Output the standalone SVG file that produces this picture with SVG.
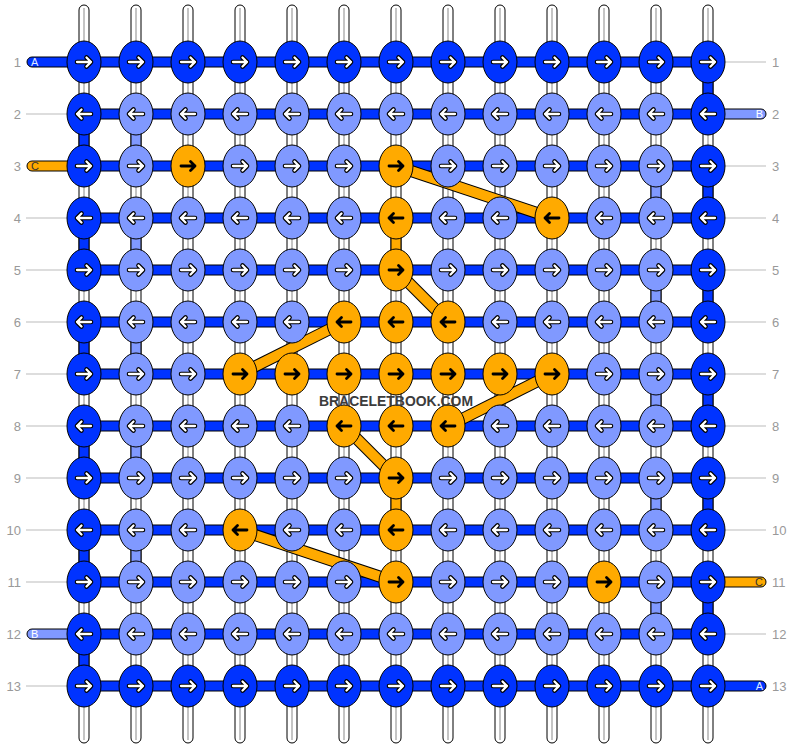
<svg xmlns="http://www.w3.org/2000/svg" width="792" height="748" viewBox="0 0 792 748">
<style>
.st{fill:#fff;stroke:#000;stroke-width:1}
.sc{stroke:#c4c4c4;stroke-width:2}
.d{fill:#0033ff;stroke:#000;stroke-width:1}
.l{fill:#8099ff;stroke:#000;stroke-width:1}
.o{fill:#ffaa00;stroke:#000;stroke-width:1}
.gl{stroke:#bbb;stroke-width:1}
.dg{stroke-linecap:butt}
.num{font-family:"Liberation Sans",Arial,sans-serif;font-size:13px;fill:#999}
.let{font-family:"Liberation Sans",Arial,sans-serif;font-size:11px}
.wm{font-family:"Liberation Sans",Arial,sans-serif;font-size:15px;font-weight:bold;fill:#3c3c3c}
</style>
<defs>
<g id="R"><path d="M-7,0H7M2.5,-4.5L7,0L2.5,4.5" fill="none" stroke="#000" stroke-width="4.6" stroke-linecap="round" stroke-linejoin="round"/><path d="M-7,0H7M2.5,-4.5L7,0L2.5,4.5" fill="none" stroke="#fff" stroke-width="2.3" stroke-linecap="round" stroke-linejoin="round"/></g>
<g id="L"><path d="M7,0H-7M-2.5,-4.5L-7,0L-2.5,4.5" fill="none" stroke="#000" stroke-width="4.6" stroke-linecap="round" stroke-linejoin="round"/><path d="M7,0H-7M-2.5,-4.5L-7,0L-2.5,4.5" fill="none" stroke="#fff" stroke-width="2.3" stroke-linecap="round" stroke-linejoin="round"/></g>
<g id="RB"><path d="M-7,0H7M2.5,-4.5L7,0L2.5,4.5" fill="none" stroke="#000" stroke-width="2.8" stroke-linecap="round" stroke-linejoin="round"/></g>
<g id="LB"><path d="M7,0H-7M-2.5,-4.5L-7,0L-2.5,4.5" fill="none" stroke="#000" stroke-width="2.8" stroke-linecap="round" stroke-linejoin="round"/></g>
</defs>
<rect width="792" height="748" fill="#fff"/>
<g id="strands">
<rect class="st" x="79" y="5" width="10" height="738" rx="5"/><line class="sc" x1="84" y1="8" x2="84" y2="740"/>
<rect class="st" x="131" y="5" width="10" height="738" rx="5"/><line class="sc" x1="136" y1="8" x2="136" y2="740"/>
<rect class="st" x="183" y="5" width="10" height="738" rx="5"/><line class="sc" x1="188" y1="8" x2="188" y2="740"/>
<rect class="st" x="235" y="5" width="10" height="738" rx="5"/><line class="sc" x1="240" y1="8" x2="240" y2="740"/>
<rect class="st" x="287" y="5" width="10" height="738" rx="5"/><line class="sc" x1="292" y1="8" x2="292" y2="740"/>
<rect class="st" x="339" y="5" width="10" height="738" rx="5"/><line class="sc" x1="344" y1="8" x2="344" y2="740"/>
<rect class="st" x="391" y="5" width="10" height="738" rx="5"/><line class="sc" x1="396" y1="8" x2="396" y2="740"/>
<rect class="st" x="443" y="5" width="10" height="738" rx="5"/><line class="sc" x1="448" y1="8" x2="448" y2="740"/>
<rect class="st" x="495" y="5" width="10" height="738" rx="5"/><line class="sc" x1="500" y1="8" x2="500" y2="740"/>
<rect class="st" x="547" y="5" width="10" height="738" rx="5"/><line class="sc" x1="552" y1="8" x2="552" y2="740"/>
<rect class="st" x="599" y="5" width="10" height="738" rx="5"/><line class="sc" x1="604" y1="8" x2="604" y2="740"/>
<rect class="st" x="651" y="5" width="10" height="738" rx="5"/><line class="sc" x1="656" y1="8" x2="656" y2="740"/>
<rect class="st" x="703" y="5" width="10" height="738" rx="5"/><line class="sc" x1="708" y1="8" x2="708" y2="740"/>
</g>
<g id="connectors">
<rect class="d" x="703" y="62" width="10" height="52"/>
<rect class="d" x="703" y="166" width="10" height="52"/>
<rect class="d" x="703" y="270" width="10" height="52"/>
<rect class="d" x="703" y="374" width="10" height="52"/>
<rect class="d" x="703" y="478" width="10" height="52"/>
<rect class="d" x="703" y="582" width="10" height="52"/>
<rect class="d" x="79" y="114" width="10" height="52"/>
<rect class="d" x="79" y="218" width="10" height="52"/>
<rect class="d" x="79" y="322" width="10" height="52"/>
<rect class="d" x="79" y="426" width="10" height="52"/>
<rect class="d" x="79" y="530" width="10" height="52"/>
<rect class="d" x="79" y="634" width="10" height="52"/>
<rect class="l" x="131" y="114" width="10" height="52"/>
<rect class="l" x="131" y="218" width="10" height="52"/>
<rect class="l" x="131" y="322" width="10" height="52"/>
<rect class="l" x="131" y="426" width="10" height="52"/>
<rect class="l" x="131" y="530" width="10" height="52"/>
<rect class="l" x="651" y="166" width="10" height="52"/>
<rect class="l" x="651" y="270" width="10" height="52"/>
<rect class="l" x="651" y="374" width="10" height="52"/>
<rect class="l" x="651" y="478" width="10" height="52"/>
<rect class="l" x="651" y="582" width="10" height="52"/>
<rect class="o" x="391" y="218" width="10" height="52"/>
<rect class="o" x="391" y="478" width="10" height="52"/>
<rect class="d" x="84" y="57" width="624" height="10"/>
<rect class="d" x="84" y="109" width="624" height="10"/>
<rect class="d" x="84" y="161" width="624" height="10"/>
<rect class="d" x="84" y="213" width="624" height="10"/>
<rect class="d" x="84" y="265" width="624" height="10"/>
<rect class="d" x="84" y="317" width="624" height="10"/>
<rect class="d" x="84" y="369" width="624" height="10"/>
<rect class="d" x="84" y="421" width="624" height="10"/>
<rect class="d" x="84" y="473" width="624" height="10"/>
<rect class="d" x="84" y="525" width="624" height="10"/>
<rect class="d" x="84" y="577" width="624" height="10"/>
<rect class="d" x="84" y="629" width="624" height="10"/>
<rect class="d" x="84" y="681" width="624" height="10"/>
<rect class="d" x="27" y="57" width="70" height="10" rx="5"/>
<rect class="o" x="27" y="161" width="70" height="10" rx="5"/>
<rect class="l" x="27" y="629" width="70" height="10" rx="5"/>
<rect class="l" x="696" y="109" width="70" height="10" rx="5"/>
<rect class="o" x="696" y="577" width="70" height="10" rx="5"/>
<rect class="d" x="696" y="681" width="70" height="10" rx="5"/>
<g stroke="#000" stroke-width="12">
<line x1="396" y1="166" x2="552" y2="218"/>
<line x1="396" y1="270" x2="448" y2="322"/>
<line x1="344" y1="322" x2="240" y2="374"/>
<line x1="552" y1="374" x2="448" y2="426"/>
<line x1="344" y1="426" x2="396" y2="478"/>
<line x1="240" y1="530" x2="396" y2="582"/>
</g>
<g stroke="#ffaa00" stroke-width="10">
<line x1="396" y1="166" x2="552" y2="218"/>
<line x1="396" y1="270" x2="448" y2="322"/>
<line x1="344" y1="322" x2="240" y2="374"/>
<line x1="552" y1="374" x2="448" y2="426"/>
<line x1="344" y1="426" x2="396" y2="478"/>
<line x1="240" y1="530" x2="396" y2="582"/>
</g>
</g>
<g id="guides">
<line class="gl" x1="26" y1="114" x2="67" y2="114"/>
<line class="gl" x1="26" y1="218" x2="67" y2="218"/>
<line class="gl" x1="26" y1="270" x2="67" y2="270"/>
<line class="gl" x1="26" y1="322" x2="67" y2="322"/>
<line class="gl" x1="26" y1="374" x2="67" y2="374"/>
<line class="gl" x1="26" y1="426" x2="67" y2="426"/>
<line class="gl" x1="26" y1="478" x2="67" y2="478"/>
<line class="gl" x1="26" y1="530" x2="67" y2="530"/>
<line class="gl" x1="26" y1="582" x2="67" y2="582"/>
<line class="gl" x1="26" y1="686" x2="67" y2="686"/>
<line class="gl" x1="725" y1="62" x2="766" y2="62"/>
<line class="gl" x1="725" y1="166" x2="766" y2="166"/>
<line class="gl" x1="725" y1="218" x2="766" y2="218"/>
<line class="gl" x1="725" y1="270" x2="766" y2="270"/>
<line class="gl" x1="725" y1="322" x2="766" y2="322"/>
<line class="gl" x1="725" y1="374" x2="766" y2="374"/>
<line class="gl" x1="725" y1="426" x2="766" y2="426"/>
<line class="gl" x1="725" y1="478" x2="766" y2="478"/>
<line class="gl" x1="725" y1="530" x2="766" y2="530"/>
<line class="gl" x1="725" y1="634" x2="766" y2="634"/>
</g>
<g id="nodes">
<g id="n1_1" transform="translate(84 62)"><ellipse class="d" rx="17" ry="21"/><use href="#R"/></g>
<g id="n1_2" transform="translate(136 62)"><ellipse class="d" rx="17" ry="21"/><use href="#R"/></g>
<g id="n1_3" transform="translate(188 62)"><ellipse class="d" rx="17" ry="21"/><use href="#R"/></g>
<g id="n1_4" transform="translate(240 62)"><ellipse class="d" rx="17" ry="21"/><use href="#R"/></g>
<g id="n1_5" transform="translate(292 62)"><ellipse class="d" rx="17" ry="21"/><use href="#R"/></g>
<g id="n1_6" transform="translate(344 62)"><ellipse class="d" rx="17" ry="21"/><use href="#R"/></g>
<g id="n1_7" transform="translate(396 62)"><ellipse class="d" rx="17" ry="21"/><use href="#R"/></g>
<g id="n1_8" transform="translate(448 62)"><ellipse class="d" rx="17" ry="21"/><use href="#R"/></g>
<g id="n1_9" transform="translate(500 62)"><ellipse class="d" rx="17" ry="21"/><use href="#R"/></g>
<g id="n1_10" transform="translate(552 62)"><ellipse class="d" rx="17" ry="21"/><use href="#R"/></g>
<g id="n1_11" transform="translate(604 62)"><ellipse class="d" rx="17" ry="21"/><use href="#R"/></g>
<g id="n1_12" transform="translate(656 62)"><ellipse class="d" rx="17" ry="21"/><use href="#R"/></g>
<g id="n1_13" transform="translate(708 62)"><ellipse class="d" rx="17" ry="21"/><use href="#R"/></g>

<g id="n2_1" transform="translate(84 114)"><ellipse class="d" rx="17" ry="21"/><use href="#L"/></g>
<g id="n2_2" transform="translate(136 114)"><ellipse class="l" rx="17" ry="21"/><use href="#L"/></g>
<g id="n2_3" transform="translate(188 114)"><ellipse class="l" rx="17" ry="21"/><use href="#L"/></g>
<g id="n2_4" transform="translate(240 114)"><ellipse class="l" rx="17" ry="21"/><use href="#L"/></g>
<g id="n2_5" transform="translate(292 114)"><ellipse class="l" rx="17" ry="21"/><use href="#L"/></g>
<g id="n2_6" transform="translate(344 114)"><ellipse class="l" rx="17" ry="21"/><use href="#L"/></g>
<g id="n2_7" transform="translate(396 114)"><ellipse class="l" rx="17" ry="21"/><use href="#L"/></g>
<g id="n2_8" transform="translate(448 114)"><ellipse class="l" rx="17" ry="21"/><use href="#L"/></g>
<g id="n2_9" transform="translate(500 114)"><ellipse class="l" rx="17" ry="21"/><use href="#L"/></g>
<g id="n2_10" transform="translate(552 114)"><ellipse class="l" rx="17" ry="21"/><use href="#L"/></g>
<g id="n2_11" transform="translate(604 114)"><ellipse class="l" rx="17" ry="21"/><use href="#L"/></g>
<g id="n2_12" transform="translate(656 114)"><ellipse class="l" rx="17" ry="21"/><use href="#L"/></g>
<g id="n2_13" transform="translate(708 114)"><ellipse class="d" rx="17" ry="21"/><use href="#L"/></g>

<g id="n3_1" transform="translate(84 166)"><ellipse class="d" rx="17" ry="21"/><use href="#R"/></g>
<g id="n3_2" transform="translate(136 166)"><ellipse class="l" rx="17" ry="21"/><use href="#R"/></g>
<g id="n3_3" transform="translate(188 166)"><ellipse class="o" rx="17" ry="21"/><use href="#RB"/></g>
<g id="n3_4" transform="translate(240 166)"><ellipse class="l" rx="17" ry="21"/><use href="#R"/></g>
<g id="n3_5" transform="translate(292 166)"><ellipse class="l" rx="17" ry="21"/><use href="#R"/></g>
<g id="n3_6" transform="translate(344 166)"><ellipse class="l" rx="17" ry="21"/><use href="#R"/></g>
<g id="n3_7" transform="translate(396 166)"><ellipse class="o" rx="17" ry="21"/><use href="#RB"/></g>
<g id="n3_8" transform="translate(448 166)"><ellipse class="l" rx="17" ry="21"/><use href="#R"/></g>
<g id="n3_9" transform="translate(500 166)"><ellipse class="l" rx="17" ry="21"/><use href="#R"/></g>
<g id="n3_10" transform="translate(552 166)"><ellipse class="l" rx="17" ry="21"/><use href="#R"/></g>
<g id="n3_11" transform="translate(604 166)"><ellipse class="l" rx="17" ry="21"/><use href="#R"/></g>
<g id="n3_12" transform="translate(656 166)"><ellipse class="l" rx="17" ry="21"/><use href="#R"/></g>
<g id="n3_13" transform="translate(708 166)"><ellipse class="d" rx="17" ry="21"/><use href="#R"/></g>

<g id="n4_1" transform="translate(84 218)"><ellipse class="d" rx="17" ry="21"/><use href="#L"/></g>
<g id="n4_2" transform="translate(136 218)"><ellipse class="l" rx="17" ry="21"/><use href="#L"/></g>
<g id="n4_3" transform="translate(188 218)"><ellipse class="l" rx="17" ry="21"/><use href="#L"/></g>
<g id="n4_4" transform="translate(240 218)"><ellipse class="l" rx="17" ry="21"/><use href="#L"/></g>
<g id="n4_5" transform="translate(292 218)"><ellipse class="l" rx="17" ry="21"/><use href="#L"/></g>
<g id="n4_6" transform="translate(344 218)"><ellipse class="l" rx="17" ry="21"/><use href="#L"/></g>
<g id="n4_7" transform="translate(396 218)"><ellipse class="o" rx="17" ry="21"/><use href="#LB"/></g>
<g id="n4_8" transform="translate(448 218)"><ellipse class="l" rx="17" ry="21"/><use href="#L"/></g>
<g id="n4_9" transform="translate(500 218)"><ellipse class="l" rx="17" ry="21"/><use href="#L"/></g>
<g id="n4_10" transform="translate(552 218)"><ellipse class="o" rx="17" ry="21"/><use href="#LB"/></g>
<g id="n4_11" transform="translate(604 218)"><ellipse class="l" rx="17" ry="21"/><use href="#L"/></g>
<g id="n4_12" transform="translate(656 218)"><ellipse class="l" rx="17" ry="21"/><use href="#L"/></g>
<g id="n4_13" transform="translate(708 218)"><ellipse class="d" rx="17" ry="21"/><use href="#L"/></g>

<g id="n5_1" transform="translate(84 270)"><ellipse class="d" rx="17" ry="21"/><use href="#R"/></g>
<g id="n5_2" transform="translate(136 270)"><ellipse class="l" rx="17" ry="21"/><use href="#R"/></g>
<g id="n5_3" transform="translate(188 270)"><ellipse class="l" rx="17" ry="21"/><use href="#R"/></g>
<g id="n5_4" transform="translate(240 270)"><ellipse class="l" rx="17" ry="21"/><use href="#R"/></g>
<g id="n5_5" transform="translate(292 270)"><ellipse class="l" rx="17" ry="21"/><use href="#R"/></g>
<g id="n5_6" transform="translate(344 270)"><ellipse class="l" rx="17" ry="21"/><use href="#R"/></g>
<g id="n5_7" transform="translate(396 270)"><ellipse class="o" rx="17" ry="21"/><use href="#RB"/></g>
<g id="n5_8" transform="translate(448 270)"><ellipse class="l" rx="17" ry="21"/><use href="#R"/></g>
<g id="n5_9" transform="translate(500 270)"><ellipse class="l" rx="17" ry="21"/><use href="#R"/></g>
<g id="n5_10" transform="translate(552 270)"><ellipse class="l" rx="17" ry="21"/><use href="#R"/></g>
<g id="n5_11" transform="translate(604 270)"><ellipse class="l" rx="17" ry="21"/><use href="#R"/></g>
<g id="n5_12" transform="translate(656 270)"><ellipse class="l" rx="17" ry="21"/><use href="#R"/></g>
<g id="n5_13" transform="translate(708 270)"><ellipse class="d" rx="17" ry="21"/><use href="#R"/></g>

<g id="n6_1" transform="translate(84 322)"><ellipse class="d" rx="17" ry="21"/><use href="#L"/></g>
<g id="n6_2" transform="translate(136 322)"><ellipse class="l" rx="17" ry="21"/><use href="#L"/></g>
<g id="n6_3" transform="translate(188 322)"><ellipse class="l" rx="17" ry="21"/><use href="#L"/></g>
<g id="n6_4" transform="translate(240 322)"><ellipse class="l" rx="17" ry="21"/><use href="#L"/></g>
<g id="n6_5" transform="translate(292 322)"><ellipse class="l" rx="17" ry="21"/><use href="#L"/></g>
<g id="n6_6" transform="translate(344 322)"><ellipse class="o" rx="17" ry="21"/><use href="#LB"/></g>
<g id="n6_7" transform="translate(396 322)"><ellipse class="o" rx="17" ry="21"/><use href="#LB"/></g>
<g id="n6_8" transform="translate(448 322)"><ellipse class="o" rx="17" ry="21"/><use href="#LB"/></g>
<g id="n6_9" transform="translate(500 322)"><ellipse class="l" rx="17" ry="21"/><use href="#L"/></g>
<g id="n6_10" transform="translate(552 322)"><ellipse class="l" rx="17" ry="21"/><use href="#L"/></g>
<g id="n6_11" transform="translate(604 322)"><ellipse class="l" rx="17" ry="21"/><use href="#L"/></g>
<g id="n6_12" transform="translate(656 322)"><ellipse class="l" rx="17" ry="21"/><use href="#L"/></g>
<g id="n6_13" transform="translate(708 322)"><ellipse class="d" rx="17" ry="21"/><use href="#L"/></g>

<g id="n7_1" transform="translate(84 374)"><ellipse class="d" rx="17" ry="21"/><use href="#R"/></g>
<g id="n7_2" transform="translate(136 374)"><ellipse class="l" rx="17" ry="21"/><use href="#R"/></g>
<g id="n7_3" transform="translate(188 374)"><ellipse class="l" rx="17" ry="21"/><use href="#R"/></g>
<g id="n7_4" transform="translate(240 374)"><ellipse class="o" rx="17" ry="21"/><use href="#RB"/></g>
<g id="n7_5" transform="translate(292 374)"><ellipse class="o" rx="17" ry="21"/><use href="#RB"/></g>
<g id="n7_6" transform="translate(344 374)"><ellipse class="o" rx="17" ry="21"/><use href="#RB"/></g>
<g id="n7_7" transform="translate(396 374)"><ellipse class="o" rx="17" ry="21"/><use href="#RB"/></g>
<g id="n7_8" transform="translate(448 374)"><ellipse class="o" rx="17" ry="21"/><use href="#RB"/></g>
<g id="n7_9" transform="translate(500 374)"><ellipse class="o" rx="17" ry="21"/><use href="#RB"/></g>
<g id="n7_10" transform="translate(552 374)"><ellipse class="o" rx="17" ry="21"/><use href="#RB"/></g>
<g id="n7_11" transform="translate(604 374)"><ellipse class="l" rx="17" ry="21"/><use href="#R"/></g>
<g id="n7_12" transform="translate(656 374)"><ellipse class="l" rx="17" ry="21"/><use href="#R"/></g>
<g id="n7_13" transform="translate(708 374)"><ellipse class="d" rx="17" ry="21"/><use href="#R"/></g>

<g id="n8_1" transform="translate(84 426)"><ellipse class="d" rx="17" ry="21"/><use href="#L"/></g>
<g id="n8_2" transform="translate(136 426)"><ellipse class="l" rx="17" ry="21"/><use href="#L"/></g>
<g id="n8_3" transform="translate(188 426)"><ellipse class="l" rx="17" ry="21"/><use href="#L"/></g>
<g id="n8_4" transform="translate(240 426)"><ellipse class="l" rx="17" ry="21"/><use href="#L"/></g>
<g id="n8_5" transform="translate(292 426)"><ellipse class="l" rx="17" ry="21"/><use href="#L"/></g>
<g id="n8_6" transform="translate(344 426)"><ellipse class="o" rx="17" ry="21"/><use href="#LB"/></g>
<g id="n8_7" transform="translate(396 426)"><ellipse class="o" rx="17" ry="21"/><use href="#LB"/></g>
<g id="n8_8" transform="translate(448 426)"><ellipse class="o" rx="17" ry="21"/><use href="#LB"/></g>
<g id="n8_9" transform="translate(500 426)"><ellipse class="l" rx="17" ry="21"/><use href="#L"/></g>
<g id="n8_10" transform="translate(552 426)"><ellipse class="l" rx="17" ry="21"/><use href="#L"/></g>
<g id="n8_11" transform="translate(604 426)"><ellipse class="l" rx="17" ry="21"/><use href="#L"/></g>
<g id="n8_12" transform="translate(656 426)"><ellipse class="l" rx="17" ry="21"/><use href="#L"/></g>
<g id="n8_13" transform="translate(708 426)"><ellipse class="d" rx="17" ry="21"/><use href="#L"/></g>

<g id="n9_1" transform="translate(84 478)"><ellipse class="d" rx="17" ry="21"/><use href="#R"/></g>
<g id="n9_2" transform="translate(136 478)"><ellipse class="l" rx="17" ry="21"/><use href="#R"/></g>
<g id="n9_3" transform="translate(188 478)"><ellipse class="l" rx="17" ry="21"/><use href="#R"/></g>
<g id="n9_4" transform="translate(240 478)"><ellipse class="l" rx="17" ry="21"/><use href="#R"/></g>
<g id="n9_5" transform="translate(292 478)"><ellipse class="l" rx="17" ry="21"/><use href="#R"/></g>
<g id="n9_6" transform="translate(344 478)"><ellipse class="l" rx="17" ry="21"/><use href="#R"/></g>
<g id="n9_7" transform="translate(396 478)"><ellipse class="o" rx="17" ry="21"/><use href="#RB"/></g>
<g id="n9_8" transform="translate(448 478)"><ellipse class="l" rx="17" ry="21"/><use href="#R"/></g>
<g id="n9_9" transform="translate(500 478)"><ellipse class="l" rx="17" ry="21"/><use href="#R"/></g>
<g id="n9_10" transform="translate(552 478)"><ellipse class="l" rx="17" ry="21"/><use href="#R"/></g>
<g id="n9_11" transform="translate(604 478)"><ellipse class="l" rx="17" ry="21"/><use href="#R"/></g>
<g id="n9_12" transform="translate(656 478)"><ellipse class="l" rx="17" ry="21"/><use href="#R"/></g>
<g id="n9_13" transform="translate(708 478)"><ellipse class="d" rx="17" ry="21"/><use href="#R"/></g>

<g id="n10_1" transform="translate(84 530)"><ellipse class="d" rx="17" ry="21"/><use href="#L"/></g>
<g id="n10_2" transform="translate(136 530)"><ellipse class="l" rx="17" ry="21"/><use href="#L"/></g>
<g id="n10_3" transform="translate(188 530)"><ellipse class="l" rx="17" ry="21"/><use href="#L"/></g>
<g id="n10_4" transform="translate(240 530)"><ellipse class="o" rx="17" ry="21"/><use href="#LB"/></g>
<g id="n10_5" transform="translate(292 530)"><ellipse class="l" rx="17" ry="21"/><use href="#L"/></g>
<g id="n10_6" transform="translate(344 530)"><ellipse class="l" rx="17" ry="21"/><use href="#L"/></g>
<g id="n10_7" transform="translate(396 530)"><ellipse class="o" rx="17" ry="21"/><use href="#LB"/></g>
<g id="n10_8" transform="translate(448 530)"><ellipse class="l" rx="17" ry="21"/><use href="#L"/></g>
<g id="n10_9" transform="translate(500 530)"><ellipse class="l" rx="17" ry="21"/><use href="#L"/></g>
<g id="n10_10" transform="translate(552 530)"><ellipse class="l" rx="17" ry="21"/><use href="#L"/></g>
<g id="n10_11" transform="translate(604 530)"><ellipse class="l" rx="17" ry="21"/><use href="#L"/></g>
<g id="n10_12" transform="translate(656 530)"><ellipse class="l" rx="17" ry="21"/><use href="#L"/></g>
<g id="n10_13" transform="translate(708 530)"><ellipse class="d" rx="17" ry="21"/><use href="#L"/></g>

<g id="n11_1" transform="translate(84 582)"><ellipse class="d" rx="17" ry="21"/><use href="#R"/></g>
<g id="n11_2" transform="translate(136 582)"><ellipse class="l" rx="17" ry="21"/><use href="#R"/></g>
<g id="n11_3" transform="translate(188 582)"><ellipse class="l" rx="17" ry="21"/><use href="#R"/></g>
<g id="n11_4" transform="translate(240 582)"><ellipse class="l" rx="17" ry="21"/><use href="#R"/></g>
<g id="n11_5" transform="translate(292 582)"><ellipse class="l" rx="17" ry="21"/><use href="#R"/></g>
<g id="n11_6" transform="translate(344 582)"><ellipse class="l" rx="17" ry="21"/><use href="#R"/></g>
<g id="n11_7" transform="translate(396 582)"><ellipse class="o" rx="17" ry="21"/><use href="#RB"/></g>
<g id="n11_8" transform="translate(448 582)"><ellipse class="l" rx="17" ry="21"/><use href="#R"/></g>
<g id="n11_9" transform="translate(500 582)"><ellipse class="l" rx="17" ry="21"/><use href="#R"/></g>
<g id="n11_10" transform="translate(552 582)"><ellipse class="l" rx="17" ry="21"/><use href="#R"/></g>
<g id="n11_11" transform="translate(604 582)"><ellipse class="o" rx="17" ry="21"/><use href="#RB"/></g>
<g id="n11_12" transform="translate(656 582)"><ellipse class="l" rx="17" ry="21"/><use href="#R"/></g>
<g id="n11_13" transform="translate(708 582)"><ellipse class="d" rx="17" ry="21"/><use href="#R"/></g>

<g id="n12_1" transform="translate(84 634)"><ellipse class="d" rx="17" ry="21"/><use href="#L"/></g>
<g id="n12_2" transform="translate(136 634)"><ellipse class="l" rx="17" ry="21"/><use href="#L"/></g>
<g id="n12_3" transform="translate(188 634)"><ellipse class="l" rx="17" ry="21"/><use href="#L"/></g>
<g id="n12_4" transform="translate(240 634)"><ellipse class="l" rx="17" ry="21"/><use href="#L"/></g>
<g id="n12_5" transform="translate(292 634)"><ellipse class="l" rx="17" ry="21"/><use href="#L"/></g>
<g id="n12_6" transform="translate(344 634)"><ellipse class="l" rx="17" ry="21"/><use href="#L"/></g>
<g id="n12_7" transform="translate(396 634)"><ellipse class="l" rx="17" ry="21"/><use href="#L"/></g>
<g id="n12_8" transform="translate(448 634)"><ellipse class="l" rx="17" ry="21"/><use href="#L"/></g>
<g id="n12_9" transform="translate(500 634)"><ellipse class="l" rx="17" ry="21"/><use href="#L"/></g>
<g id="n12_10" transform="translate(552 634)"><ellipse class="l" rx="17" ry="21"/><use href="#L"/></g>
<g id="n12_11" transform="translate(604 634)"><ellipse class="l" rx="17" ry="21"/><use href="#L"/></g>
<g id="n12_12" transform="translate(656 634)"><ellipse class="l" rx="17" ry="21"/><use href="#L"/></g>
<g id="n12_13" transform="translate(708 634)"><ellipse class="d" rx="17" ry="21"/><use href="#L"/></g>

<g id="n13_1" transform="translate(84 686)"><ellipse class="d" rx="17" ry="21"/><use href="#R"/></g>
<g id="n13_2" transform="translate(136 686)"><ellipse class="d" rx="17" ry="21"/><use href="#R"/></g>
<g id="n13_3" transform="translate(188 686)"><ellipse class="d" rx="17" ry="21"/><use href="#R"/></g>
<g id="n13_4" transform="translate(240 686)"><ellipse class="d" rx="17" ry="21"/><use href="#R"/></g>
<g id="n13_5" transform="translate(292 686)"><ellipse class="d" rx="17" ry="21"/><use href="#R"/></g>
<g id="n13_6" transform="translate(344 686)"><ellipse class="d" rx="17" ry="21"/><use href="#R"/></g>
<g id="n13_7" transform="translate(396 686)"><ellipse class="d" rx="17" ry="21"/><use href="#R"/></g>
<g id="n13_8" transform="translate(448 686)"><ellipse class="d" rx="17" ry="21"/><use href="#R"/></g>
<g id="n13_9" transform="translate(500 686)"><ellipse class="d" rx="17" ry="21"/><use href="#R"/></g>
<g id="n13_10" transform="translate(552 686)"><ellipse class="d" rx="17" ry="21"/><use href="#R"/></g>
<g id="n13_11" transform="translate(604 686)"><ellipse class="d" rx="17" ry="21"/><use href="#R"/></g>
<g id="n13_12" transform="translate(656 686)"><ellipse class="d" rx="17" ry="21"/><use href="#R"/></g>
<g id="n13_13" transform="translate(708 686)"><ellipse class="d" rx="17" ry="21"/><use href="#R"/></g>
</g>
<g id="watermark"><text class="wm" x="396" y="405.5" text-anchor="middle" textLength="154" lengthAdjust="spacingAndGlyphs">BRACELETBOOK.COM</text></g>
<g id="thread-letters">
<text class="let" x="31" y="66" fill="#dfe6ff">A</text>
<text class="let" x="31" y="170" fill="#333">C</text>
<text class="let" x="31" y="638" fill="#fff">B</text>
<text class="let" x="763" y="118" fill="#fff" text-anchor="end">B</text>
<text class="let" x="763" y="586" fill="#333" text-anchor="end">C</text>
<text class="let" x="763" y="690" fill="#dfe6ff" text-anchor="end">A</text>
</g>
<g id="row-numbers">
<text class="num" x="21" y="66.6" text-anchor="end">1</text>
<text class="num" x="21" y="118.6" text-anchor="end">2</text>
<text class="num" x="21" y="170.6" text-anchor="end">3</text>
<text class="num" x="21" y="222.6" text-anchor="end">4</text>
<text class="num" x="21" y="274.6" text-anchor="end">5</text>
<text class="num" x="21" y="326.6" text-anchor="end">6</text>
<text class="num" x="21" y="378.6" text-anchor="end">7</text>
<text class="num" x="21" y="430.6" text-anchor="end">8</text>
<text class="num" x="21" y="482.6" text-anchor="end">9</text>
<text class="num" x="21" y="534.6" text-anchor="end">10</text>
<text class="num" x="21" y="586.6" text-anchor="end">11</text>
<text class="num" x="21" y="638.6" text-anchor="end">12</text>
<text class="num" x="21" y="690.6" text-anchor="end">13</text>
<text class="num" x="772" y="66.6">1</text>
<text class="num" x="772" y="118.6">2</text>
<text class="num" x="772" y="170.6">3</text>
<text class="num" x="772" y="222.6">4</text>
<text class="num" x="772" y="274.6">5</text>
<text class="num" x="772" y="326.6">6</text>
<text class="num" x="772" y="378.6">7</text>
<text class="num" x="772" y="430.6">8</text>
<text class="num" x="772" y="482.6">9</text>
<text class="num" x="772" y="534.6">10</text>
<text class="num" x="772" y="586.6">11</text>
<text class="num" x="772" y="638.6">12</text>
<text class="num" x="772" y="690.6">13</text>
</g>
</svg>
